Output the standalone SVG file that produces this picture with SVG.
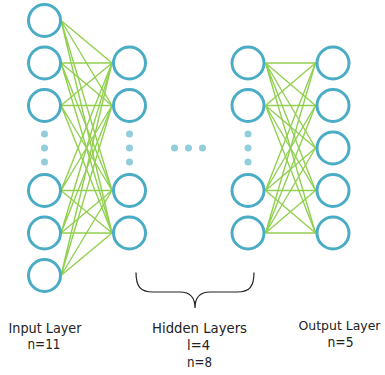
<svg xmlns="http://www.w3.org/2000/svg" width="385" height="375" viewBox="0 0 385 375">
<style>
.n{fill:#fff;stroke:#4bacc6;stroke-width:3}
.d{fill:#92cddc}
.e{stroke:#92d050;stroke-width:1.4;fill:none}
.t{font-family:"DejaVu Sans",sans-serif;font-size:14px;fill:#222;text-anchor:middle}
.s{font-size:13px}
</style>
<g id="connectors">
<g class="e">
<path d="M61,20.5L112,63M61,20.5L112,105.5M61,20.5L112,190.5M61,20.5L112,233"/>
<path d="M61,63L112,63M61,63L112,105.5M61,63L112,190.5M61,63L112,233"/>
<path d="M61,105.5L112,63M61,105.5L112,105.5M61,105.5L112,190.5M61,105.5L112,233"/>
<path d="M61,190.5L112,63M61,190.5L112,105.5M61,190.5L112,190.5M61,190.5L112,233"/>
<path d="M61,233L112,63M61,233L112,105.5M61,233L112,190.5M61,233L112,233"/>
<path d="M61,275.5L112,63M61,275.5L112,105.5M61,275.5L112,190.5M61,275.5L112,233"/>
<path d="M265.5,63L315.5,63M265.5,63L315.5,105.5M265.5,63L315.5,148M265.5,63L315.5,190.5M265.5,63L315.5,233"/>
<path d="M265.5,105.5L315.5,63M265.5,105.5L315.5,105.5M265.5,105.5L315.5,148M265.5,105.5L315.5,190.5M265.5,105.5L315.5,233"/>
<path d="M265.5,190.5L315.5,63M265.5,190.5L315.5,105.5M265.5,190.5L315.5,148M265.5,190.5L315.5,190.5M265.5,190.5L315.5,233"/>
<path d="M265.5,233L315.5,63M265.5,233L315.5,105.5M265.5,233L315.5,148M265.5,233L315.5,190.5M265.5,233L315.5,233"/>
</g>
</g>
<g id="input-layer">
<circle class="n" cx="44.5" cy="20.5" r="16"/>
<circle class="n" cx="44.5" cy="63" r="16"/>
<circle class="n" cx="44.5" cy="105.5" r="16"/>
<circle class="d" cx="44.5" cy="134" r="3.5"/>
<circle class="d" cx="44.5" cy="148" r="3.5"/>
<circle class="d" cx="44.5" cy="162" r="3.5"/>
<circle class="n" cx="44.5" cy="190.5" r="16"/>
<circle class="n" cx="44.5" cy="233" r="16"/>
<circle class="n" cx="44.5" cy="275.5" r="16"/>
</g>
<g id="hidden-layer-1">
<circle class="n" cx="129.5" cy="63" r="16"/>
<circle class="n" cx="129.5" cy="105.5" r="16"/>
<circle class="d" cx="129.5" cy="134" r="3.5"/>
<circle class="d" cx="129.5" cy="148" r="3.5"/>
<circle class="d" cx="129.5" cy="162" r="3.5"/>
<circle class="n" cx="129.5" cy="190.5" r="16"/>
<circle class="n" cx="129.5" cy="233" r="16"/>
</g>
<g id="hidden-ellipsis">
<circle class="d" cx="174.5" cy="148" r="3.5"/>
<circle class="d" cx="188.5" cy="148" r="3.5"/>
<circle class="d" cx="202.5" cy="148" r="3.5"/>
</g>
<g id="hidden-layer-4">
<circle class="n" cx="248" cy="63" r="16"/>
<circle class="n" cx="248" cy="105.5" r="16"/>
<circle class="d" cx="248" cy="134" r="3.5"/>
<circle class="d" cx="248" cy="148" r="3.5"/>
<circle class="d" cx="248" cy="162" r="3.5"/>
<circle class="n" cx="248" cy="190.5" r="16"/>
<circle class="n" cx="248" cy="233" r="16"/>
</g>
<g id="output-layer">
<circle class="n" cx="333" cy="63" r="16"/>
<circle class="n" cx="333" cy="105.5" r="16"/>
<circle class="n" cx="333" cy="148" r="16"/>
<circle class="n" cx="333" cy="190.5" r="16"/>
<circle class="n" cx="333" cy="233" r="16"/>
</g>
<g id="brace">
<path d="M136,272.5C136,286 140,292 153,292L180,292C190,292 195,298 195,308C195,298 200,292 210,292L237,292C250,292 254,286 254,272.5" fill="none" stroke="#222" stroke-width="1.2"/>
</g>
<g id="labels">
<text class="t" x="45" y="333" textLength="73" lengthAdjust="spacingAndGlyphs">Input Layer</text>
<text class="t" x="44" y="349.3" textLength="33" lengthAdjust="spacingAndGlyphs">n=11</text>
<text class="t" x="199.5" y="333" textLength="95" lengthAdjust="spacingAndGlyphs">Hidden Layers</text>
<text class="t" x="198.5" y="350" textLength="23" lengthAdjust="spacingAndGlyphs">l=4</text>
<text class="t" x="199.5" y="366.7" textLength="25" lengthAdjust="spacingAndGlyphs">n=8</text>
<text class="t s" x="339.5" y="330" textLength="82" lengthAdjust="spacingAndGlyphs">Output Layer</text>
<text class="t" x="340.5" y="346.7" textLength="26" lengthAdjust="spacingAndGlyphs">n=5</text>
</g>
</svg>
